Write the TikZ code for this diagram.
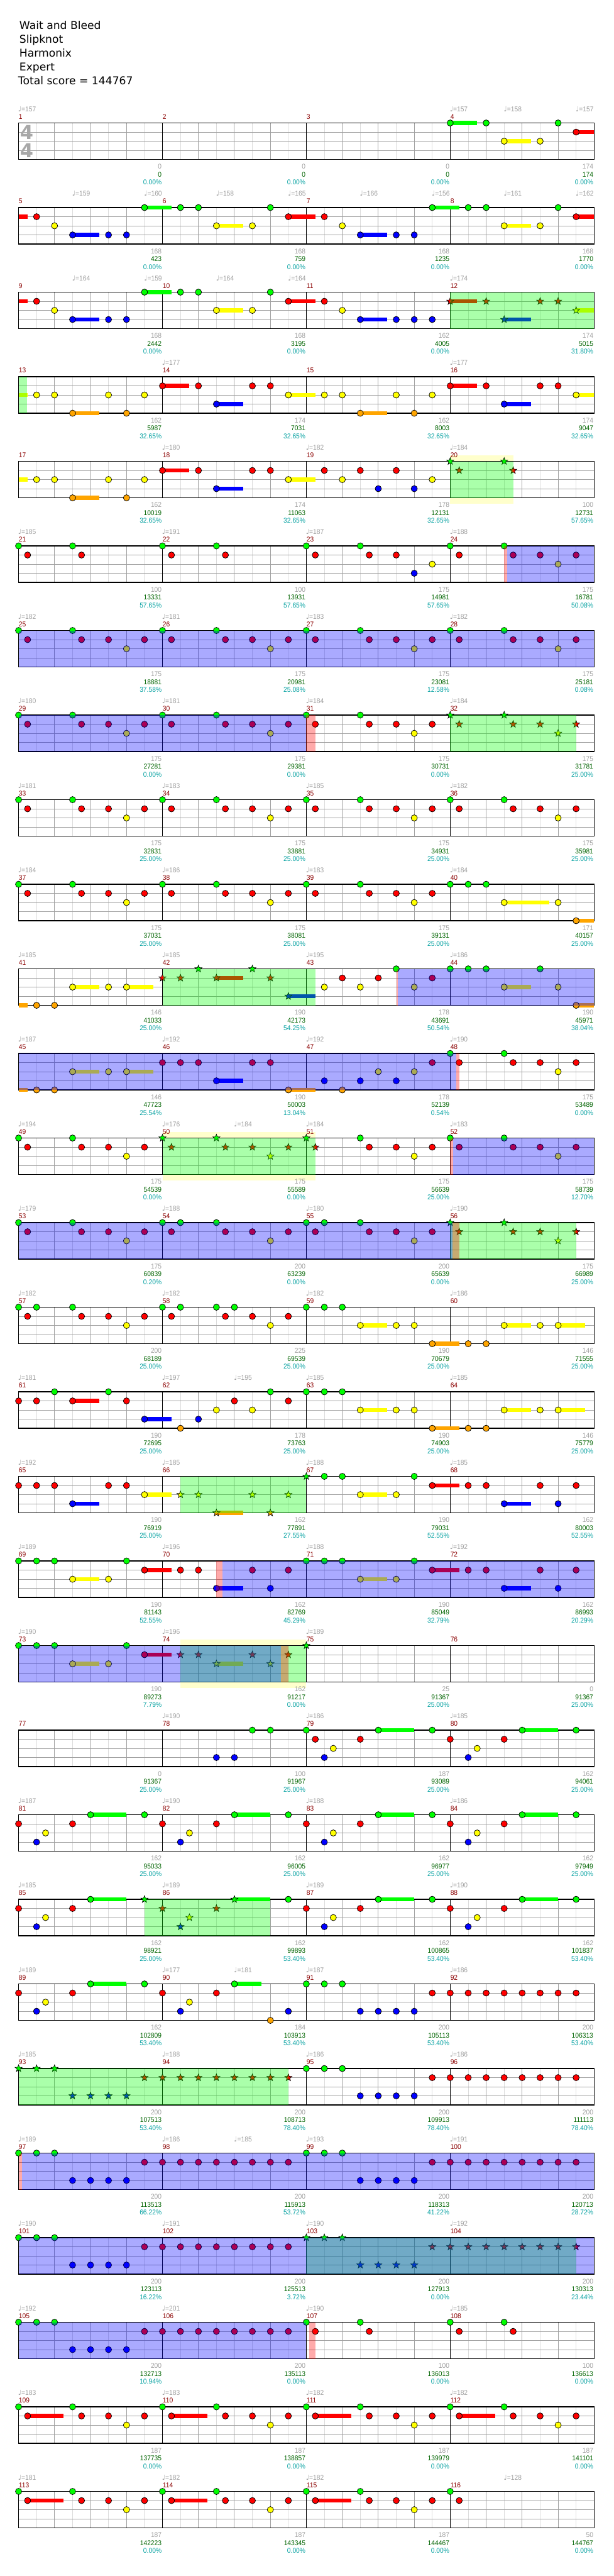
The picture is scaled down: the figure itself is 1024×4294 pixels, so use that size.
\documentclass[tikz,border=0pt]{standalone}
\usepackage{fontspec}
\setmainfont{DejaVu Sans}
\newfontfamily\djf{DejaVu Sans}
\newfontfamily\smallf[FakeStretch=0.93]{Liberation Sans}
\usetikzlibrary{shapes.geometric}
\definecolor{nG}{HTML}{00FF00}
\definecolor{nR}{HTML}{FF0000}
\definecolor{nY}{HTML}{FFFF00}
\definecolor{nB}{HTML}{0000FF}
\definecolor{nO}{HTML}{FFA500}
\definecolor{tgray}{HTML}{A0A0A0}
\definecolor{mred}{HTML}{8B0000}
\definecolor{tgrn}{HTML}{006400}
\definecolor{tteal}{HTML}{00A0A0}
\definecolor{glc}{HTML}{DCDCDC}
\definecolor{gmc}{HTML}{A0A0A0}
\definecolor{ylw}{HTML}{FFFFCC}
\definecolor{tsg}{HTML}{A8A8A8}
\newcommand\lnG{0}\newcommand\lnR{1}\newcommand\lnY{2}\newcommand\lnB{3}\newcommand\lnO{4}
\newcommand\Qf{\smallf\fontsize{5.8pt}{6pt}\selectfont}
\tikzset{
 glin/.style={draw=glc, line width=0.5pt},
 gmid/.style={draw=gmc, line width=0.5pt},
 blin/.style={draw=black, line width=0.6pt},
 tmp/.style={text=tgray, font=\Qf, inner sep=0pt, anchor=base west},
 mnum/.style={text=mred, font=\Qf, inner sep=0pt, anchor=base west},
 bgy/.style={text=tgray, font=\Qf, inner sep=0pt, anchor=base east},
 bgn/.style={text=tgrn, font=\Qf, inner sep=0pt, anchor=base east},
 btl/.style={text=tteal, font=\Qf, inner sep=0pt, anchor=base east},
 ttl/.style={font=\fontsize{9pt}{10pt}\selectfont, inner sep=0pt, anchor=base west},
 tsig/.style={text=tsg, font=\djf\bfseries\fontsize{16pt}{16pt}\selectfont, inner sep=0pt},
 strs/.style={star, star points=5, star point ratio=2.4, minimum size=6.2pt, inner sep=0pt, draw=black, line width=0.35pt}
}
% note, sustain, star
\newcommand\Qn[2]{\fill[n#2, draw=black, line width=0.4pt] ({31+30*(#1)},{15.2*\csname ln#2\endcsname}) circle (5.2);}
\newcommand\Qs[3]{\fill[n#3] ({31+30*(#1)},{15.2*\csname ln#3\endcsname-3.4}) rectangle ({31+30*(#1+#2)},{15.2*\csname ln#3\endcsname+3.4});}
\newcommand\Qr[2]{\node[strs, fill=n#2] at ({31+30*(#1)},{15.2*\csname ln#2\endcsname}) {};}
% texts
\newcommand\Qt[2]{\node[tmp] at ({31+30*(#1)-1},-19.3) {{\djf ♩}=#2};}
\newcommand\Qb[4]{\node[bgy] at ({31+240*#1-1},76.5) {#2};\node[bgn] at ({31+240*#1-1},90) {#3};\node[btl] at ({31+240*#1-1},103) {#4\%};}
% overlays
\newcommand\Qy[2]{\fill[ylw] ({31+30*(#1)},-10) rectangle ({31+30*(#2)},70.8);}
\newcommand\Qg[2]{\fill[nG, opacity=0.333] ({31+30*(#1)},0) rectangle ({31+30*(#2)},60.8);}
\newcommand\Qu[2]{\fill[nB, opacity=0.333] ({31+30*(#1)},0) rectangle ({31+30*(#2)},60.8);}
\newcommand\Qp[2]{\fill[nR, opacity=0.333] ({31+30*(#1)},0) rectangle ({31+30*(#2)},60.8);}
% staff
\newcommand\QS{%
 \fill[white] (31,0) rectangle (991,60.8);
 \foreach \i in {1,3,...,31}{\draw[glin] ({31+30*\i},0) -- ({31+30*\i},60.8);}
 \foreach \i in {2,4,6,10,12,14,18,20,22,26,28,30}{\draw[gmid] ({31+30*\i},0) -- ({31+30*\i},60.8);}
 \foreach \l in {1,2,3}{\draw[gmid] (31,{15.2*\l}) -- (991,{15.2*\l});}
 \foreach \i in {8,16,24}{\draw[blin] ({31+30*\i},0) -- ({31+30*\i},60.8);}
 \draw[blin] (31,0) rectangle (991,60.8);}
\newcommand\QB[1]{\pgfmathsetmacro\QT{205+141*(#1-1)}\begin{scope}[shift={(0,\QT)}]\pgfmathtruncatemacro\Qm{4*(#1-1)}}
\newcommand\QE{\foreach \k in {0,1,2,3}{\pgfmathtruncatemacro\Qmm{\Qm+\k+1}\node[mnum] at ({31+240*\k},-6.7) {\Qmm};}\end{scope}}
% patterns
\newcommand\QPa[2][\Qn]{#1{#2}{G}#1{#2+0.5}{R}#1{#2+3}{G}#1{#2+3.5}{R}#1{#2+5}{R}#1{#2+6}{Y}#1{#2+7}{R}}
\newcommand\QPd[1]{\Qs{#1+4}{2}{G}\Qn{#1}{R}\Qn{#1+1}{B}\Qn{#1+1.5}{Y}\Qn{#1+3}{R}\Qn{#1+4}{G}\Qn{#1+7}{G}}
\newcommand\QPe[1]{\Qs{#1+0.5}{2}{R}\Qn{#1}{G}\Qn{#1+0.5}{R}\Qn{#1+3}{G}\Qn{#1+3.5}{R}\Qn{#1+5}{R}\Qn{#1+6}{Y}\Qn{#1+7}{R}}
\newcommand\QPf[2][\Qn]{\foreach \i in {0,1,2}{#1{#2+\i}{G}}\foreach \i in {3,...,6}{#1{#2+\i}{B}}\foreach \i in {7,...,15}{#1{#2+\i}{R}}}
\newcommand\QPc{\Qs{19}{1.5}{Y}\Qs{23}{1.5}{O}\Qs{27}{1.5}{Y}\Qs{30}{1.5}{Y}\Qn{16}{G}\Qn{17}{G}\Qn{18}{G}\Qn{19}{Y}\Qn{21}{Y}\Qn{22}{Y}\Qn{23}{O}\Qn{25}{O}\Qn{26}{O}\Qn{27}{Y}\Qn{29}{Y}\Qn{30}{Y}}
\newcommand\QPt{\Qs{19}{1.5}{Y}\Qs{23}{1.5}{R}\Qs{27}{1.5}{B}\Qn{17}{G}\Qn{18}{G}\Qn{19}{Y}\Qn{21}{Y}\Qn{22}{G}\Qn{23}{R}\Qn{25}{R}\Qn{26}{R}\Qn{27}{B}\Qn{29}{R}\Qn{30}{B}\Qn{31}{R}}
\begin{document}
\begin{tikzpicture}[x=0.5pt,y=-0.5pt]
\useasboundingbox (0,0) rectangle (1024,4294);
\fill[white] (0,0) rectangle (1024,4294);
\node[ttl] (t1) at (32,49) {Wait and Bleed};
\node[ttl] (t2) at (32,72) {Slipknot};
\node[ttl] (t3) at (32,95) {Harmonix};
\node[ttl] (t4) at (32,118) {Expert};
\node[ttl] (t5) at (30,141.5) {Total score = 144767};
% row 1
\QB{1}\QS
\node[tsig] (ts1) at (44.5,15.5) {4};\node[tsig] (ts2) at (44.5,45.5) {4};
\Qt{0}{157}\Qt{24}{157}\Qt{27}{158}\Qt{31}{157}
\Qs{24}{1.5}{G}\Qs{27}{1.5}{Y}\Qs{31}{1}{R}
\Qn{24}{G}\Qn{26}{G}\Qn{27}{Y}\Qn{29}{Y}\Qn{30}{G}\Qn{31}{R}
\Qb{1}{0}{0}{0.00}\Qb{2}{0}{0}{0.00}\Qb{3}{0}{0}{0.00}\Qb{4}{174}{174}{0.00}
\QE
% row 2
\QB{2}\QS
\Qt{3}{159}\Qt{7}{160}\Qt{11}{158}\Qt{15}{165}\Qt{19}{166}\Qt{23}{156}\Qt{27}{161}\Qt{31}{162}
\Qs{0}{0.5}{R}\Qs{3}{1.5}{B}\Qs{7}{1.5}{G}\Qs{11}{1.5}{Y}\Qs{15}{1.5}{R}\Qs{19}{1.5}{B}\Qs{23}{1.5}{G}\Qs{27}{1.5}{Y}\Qs{31}{1}{R}
\Qn{1}{R}\Qn{2}{Y}\Qn{3}{B}\Qn{5}{B}\Qn{6}{B}\Qn{7}{G}\Qn{9}{G}\Qn{10}{G}\Qn{11}{Y}\Qn{13}{Y}\Qn{14}{G}\Qn{15}{R}\Qn{17}{R}\Qn{18}{Y}\Qn{19}{B}\Qn{21}{B}\Qn{22}{B}\Qn{23}{G}\Qn{25}{G}\Qn{26}{G}\Qn{27}{Y}\Qn{29}{Y}\Qn{30}{G}\Qn{31}{R}
\Qb{1}{168}{423}{0.00}\Qb{2}{168}{759}{0.00}\Qb{3}{168}{1235}{0.00}\Qb{4}{168}{1770}{0.00}
\QE
% row 3
\QB{3}\QS
\Qt{3}{164}\Qt{7}{159}\Qt{11}{164}\Qt{15}{164}\Qt{24}{174}
\Qs{0}{0.5}{R}\Qs{3}{1.5}{B}\Qs{7}{1.5}{G}\Qs{11}{1.5}{Y}\Qs{15}{1.5}{R}\Qs{19}{1.5}{B}\Qs{24}{1.5}{R}\Qs{27}{1.5}{B}\Qs{31}{1}{Y}
\Qn{1}{R}\Qn{2}{Y}\Qn{3}{B}\Qn{5}{B}\Qn{6}{B}\Qn{7}{G}\Qn{9}{G}\Qn{10}{G}\Qn{11}{Y}\Qn{13}{Y}\Qn{14}{G}\Qn{15}{R}\Qn{17}{R}\Qn{18}{Y}\Qn{19}{B}\Qn{21}{B}\Qn{22}{B}\Qn{23}{B}
\Qr{24}{R}\Qr{26}{R}\Qr{27}{B}\Qr{29}{R}\Qr{30}{R}\Qr{31}{Y}
\Qg{24}{32}
\Qb{1}{168}{2442}{0.00}\Qb{2}{168}{3195}{0.00}\Qb{3}{162}{4005}{0.00}\Qb{4}{174}{5015}{31.80}
\QE
% row 4
\QB{4}\QS
\Qt{8}{177}\Qt{24}{177}
\Qs{0}{0.5}{Y}\Qs{3}{1.5}{O}\Qs{8}{1.5}{R}\Qs{11}{1.5}{B}\Qs{15}{1.5}{Y}\Qs{19}{1.5}{O}\Qs{24}{1.5}{R}\Qs{27}{1.5}{B}\Qs{31}{1}{Y}
\Qn{1}{Y}\Qn{2}{Y}\Qn{3}{O}\Qn{5}{Y}\Qn{6}{O}\Qn{7}{Y}\Qn{8}{R}\Qn{10}{R}\Qn{11}{B}\Qn{13}{R}\Qn{14}{R}\Qn{15}{Y}\Qn{17}{Y}\Qn{18}{Y}\Qn{19}{O}\Qn{21}{Y}\Qn{22}{O}\Qn{23}{Y}\Qn{24}{R}\Qn{26}{R}\Qn{27}{B}\Qn{29}{R}\Qn{30}{R}\Qn{31}{Y}
\Qg{0}{0.48}
\Qb{1}{162}{5987}{32.65}\Qb{2}{174}{7031}{32.65}\Qb{3}{162}{8003}{32.65}\Qb{4}{174}{9047}{32.65}
\QE
% row 5
\QB{5}\Qy{24}{27.5}\QS
\Qt{8}{180}\Qt{16}{182}\Qt{24}{184}
\Qs{0}{0.5}{Y}\Qs{3}{1.5}{O}\Qs{8}{1.5}{R}\Qs{11}{1.5}{B}\Qs{15}{1.5}{Y}
\Qn{1}{Y}\Qn{2}{Y}\Qn{3}{O}\Qn{5}{Y}\Qn{6}{O}\Qn{7}{Y}\Qn{8}{R}\Qn{10}{R}\Qn{11}{B}\Qn{13}{R}\Qn{14}{R}\Qn{15}{Y}\Qn{17}{R}\Qn{18}{Y}\Qn{19}{R}\Qn{20}{B}\Qn{21}{R}\Qn{22}{B}\Qn{23}{Y}
\Qr{24}{G}\Qr{24.5}{R}\Qr{27}{G}\Qr{27.5}{R}
\Qg{24}{27.5}
\Qb{1}{162}{10019}{32.65}\Qb{2}{174}{11063}{32.65}\Qb{3}{178}{12131}{32.65}\Qb{4}{100}{12731}{57.65}
\QE
% row 6
\QB{6}\QS
\Qt{0}{185}\Qt{8}{191}\Qt{16}{187}\Qt{24}{188}
\Qn{0}{G}\Qn{0.5}{R}\Qn{3}{G}\Qn{3.5}{R}\Qn{8}{G}\Qn{8.5}{R}\Qn{11}{G}\Qn{11.5}{R}\Qn{16}{G}\Qn{16.5}{R}\Qn{19}{G}\Qn{19.5}{R}\Qn{21}{R}\Qn{22}{B}\Qn{23}{Y}\QPa{24}
\Qu{27.15}{32}\Qp{27}{27.15}
\Qb{1}{100}{13331}{57.65}\Qb{2}{100}{13931}{57.65}\Qb{3}{175}{14981}{57.65}\Qb{4}{175}{16781}{50.08}
\QE
% row 7
\QB{7}\QS
\Qt{0}{182}\Qt{8}{181}\Qt{16}{183}\Qt{24}{182}
\QPa{0}\QPa{8}\QPa{16}\QPa{24}
\Qu{0}{32}
\Qb{1}{175}{18881}{37.58}\Qb{2}{175}{20981}{25.08}\Qb{3}{175}{23081}{12.58}\Qb{4}{175}{25181}{0.08}
\QE
% row 8
\QB{8}\QS
\Qt{0}{180}\Qt{8}{181}\Qt{16}{184}\Qt{24}{184}
\QPa{0}\QPa{8}\QPa{16}\QPa[\Qr]{24}
\Qg{24}{31}\Qu{0}{16}\Qp{16}{16.5}
\Qb{1}{175}{27281}{0.00}\Qb{2}{175}{29381}{0.00}\Qb{3}{175}{30731}{0.00}\Qb{4}{175}{31781}{25.00}
\QE
% row 9
\QB{9}\QS
\Qt{0}{181}\Qt{8}{183}\Qt{16}{185}\Qt{24}{182}
\QPa{0}\QPa{8}\QPa{16}\QPa{24}
\Qb{1}{175}{32831}{25.00}\Qb{2}{175}{33881}{25.00}\Qb{3}{175}{34931}{25.00}\Qb{4}{175}{35981}{25.00}
\QE
% row 10
\QB{10}\QS
\Qt{0}{184}\Qt{8}{186}\Qt{16}{183}\Qt{24}{184}
\QPa{0}\QPa{8}\QPa{16}
\Qs{27}{2.5}{Y}\Qs{31}{1}{O}\Qn{24}{G}\Qn{25}{G}\Qn{26}{G}\Qn{27}{Y}\Qn{30}{Y}\Qn{31}{O}
\Qb{1}{175}{37031}{25.00}\Qb{2}{175}{38081}{25.00}\Qb{3}{175}{39131}{25.00}\Qb{4}{171}{40157}{25.00}
\QE
% row 11
\QB{11}\QS
\Qt{0}{185}\Qt{8}{185}\Qt{16}{195}\Qt{24}{186}
\Qs{0}{0.5}{O}\Qs{3}{1.5}{Y}\Qs{6}{1.5}{Y}\Qs{11}{1.5}{R}\Qs{15}{1.5}{B}\Qs{27}{1.5}{Y}\Qs{31}{1}{O}
\Qn{1}{O}\Qn{2}{O}\Qn{3}{Y}\Qn{5}{Y}\Qn{6}{Y}
\Qr{8}{R}\Qr{9}{R}\Qr{10}{G}\Qr{11}{R}\Qr{13}{G}\Qr{14}{R}\Qr{15}{B}
\Qn{17}{Y}\Qn{18}{R}\Qn{19}{Y}\Qn{20}{R}\Qn{21}{G}\Qn{22}{Y}\Qn{23}{R}\Qn{24}{G}\Qn{25}{G}\Qn{26}{G}\Qn{27}{Y}\Qn{29}{G}\Qn{30}{Y}\Qn{31}{O}
\Qg{8}{16.5}\Qu{21.1}{32}\Qp{21}{21.1}
\Qb{1}{146}{41033}{25.00}\Qb{2}{190}{42173}{54.25}\Qb{3}{178}{43691}{50.54}\Qb{4}{190}{45971}{38.04}
\QE
% row 12
\QB{12}\QS
\Qt{0}{187}\Qt{8}{192}\Qt{16}{192}\Qt{24}{190}
\Qs{0}{0.5}{O}\Qs{3}{1.5}{Y}\Qs{6}{1.5}{Y}\Qs{11}{1.5}{B}\Qs{15}{1.5}{O}
\Qn{1}{O}\Qn{2}{O}\Qn{3}{Y}\Qn{5}{Y}\Qn{6}{Y}\Qn{8}{R}\Qn{9}{R}\Qn{10}{R}\Qn{11}{B}\Qn{13}{R}\Qn{14}{R}\Qn{15}{O}\Qn{17}{B}\Qn{18}{O}\Qn{19}{B}\Qn{20}{Y}\Qn{21}{B}\Qn{22}{Y}\Qn{23}{R}\QPa{24}
\Qu{0}{24.33}\Qp{24.33}{24.5}
\Qb{1}{146}{47723}{25.54}\Qb{2}{190}{50003}{13.04}\Qb{3}{178}{52139}{0.54}\Qb{4}{175}{53489}{0.00}
\QE
% row 13
\QB{13}\Qy{8}{16.5}\QS
\Qt{0}{194}\Qt{8}{176}\Qt{12}{184}\Qt{16}{184}\Qt{24}{183}
\QPa{0}\QPa[\Qr]{8}\Qr{16}{G}\Qr{16.5}{R}\Qn{19}{G}\Qn{19.5}{R}\Qn{21}{R}\Qn{22}{Y}\Qn{23}{R}\QPa{24}
\Qg{8}{16.5}\Qu{24.15}{32}\Qp{24}{24.15}
\Qb{1}{175}{54539}{0.00}\Qb{2}{175}{55589}{0.00}\Qb{3}{175}{56639}{25.00}\Qb{4}{175}{58739}{12.70}
\QE
% row 14
\QB{14}\QS
\Qt{0}{179}\Qt{8}{188}\Qt{16}{180}\Qt{24}{190}
\QPa{0}\QPa{8}\Qn{9}{G}\QPa{16}\Qn{17}{G}\QPa[\Qr]{24}
\Qg{24}{31}\Qu{0}{24.13}\Qp{24.13}{24.5}
\Qb{1}{175}{60839}{0.20}\Qb{2}{200}{63239}{0.00}\Qb{3}{200}{65639}{0.00}\Qb{4}{175}{66989}{25.00}
\QE
% row 15
\QB{15}\QS
\Qt{0}{182}\Qt{8}{182}\Qt{16}{182}\Qt{24}{186}
\QPa{0}\Qn{1}{G}\QPa{8}\Qn{9}{G}\Qn{12}{G}\QPc
\Qb{1}{200}{68189}{25.00}\Qb{2}{225}{69539}{25.00}\Qb{3}{190}{70679}{25.00}\Qb{4}{146}{71555}{25.00}
\QE
% row 16
\QB{16}\QS
\Qt{0}{181}\Qt{8}{197}\Qt{12}{195}\Qt{16}{185}\Qt{24}{185}
\Qs{3}{1.5}{R}\Qs{7}{1.5}{B}
\Qn{0}{R}\Qn{1}{R}\Qn{2}{G}\Qn{3}{R}\Qn{5}{G}\Qn{6}{R}\Qn{7}{B}\Qn{9}{O}\Qn{10}{B}\Qn{11}{Y}\Qn{12}{R}\Qn{13}{Y}\Qn{14}{G}\Qn{15}{R}\QPc
\Qb{1}{190}{72695}{25.00}\Qb{2}{178}{73763}{25.00}\Qb{3}{190}{74903}{25.00}\Qb{4}{146}{75779}{25.00}
\QE
% row 17
\QB{17}\QS
\Qt{0}{192}\Qt{8}{185}\Qt{16}{188}\Qt{24}{185}
\Qs{3}{1.5}{B}\Qs{7}{1.5}{Y}\Qs{11}{1.5}{O}
\Qn{0}{R}\Qn{1}{R}\Qn{2}{R}\Qn{3}{B}\Qn{5}{R}\Qn{6}{R}\Qn{7}{Y}
\Qr{9}{Y}\Qr{10}{Y}\Qr{11}{O}\Qr{13}{Y}\Qr{14}{O}\Qr{15}{Y}\Qr{16}{G}
\QPt
\Qg{9}{16}
\Qb{1}{190}{76919}{25.00}\Qb{2}{162}{77891}{27.55}\Qb{3}{190}{79031}{52.55}\Qb{4}{162}{80003}{52.55}
\QE
% row 18
\QB{18}\QS
\Qt{0}{189}\Qt{8}{196}\Qt{16}{188}\Qt{24}{192}
\Qs{3}{1.5}{Y}\Qs{7}{1.5}{R}\Qs{11}{1.5}{B}
\Qn{0}{G}\Qn{1}{G}\Qn{2}{G}\Qn{3}{Y}\Qn{5}{Y}\Qn{6}{G}\Qn{7}{R}\Qn{9}{R}\Qn{10}{R}\Qn{11}{B}\Qn{13}{R}\Qn{14}{B}\Qn{15}{R}\Qn{16}{G}\QPt
\Qu{11.33}{32}\Qp{11}{11.33}
\Qb{1}{190}{81143}{52.55}\Qb{2}{162}{82769}{45.29}\Qb{3}{190}{85049}{32.79}\Qb{4}{162}{86993}{20.29}
\QE
% row 19
\QB{19}\Qy{9}{16}\QS
\Qt{0}{190}\Qt{8}{196}\Qt{16}{189}
\Qs{3}{1.5}{Y}\Qs{7}{1.5}{R}\Qs{11}{1.5}{Y}
\Qn{0}{G}\Qn{1}{G}\Qn{2}{G}\Qn{3}{Y}\Qn{5}{Y}\Qn{6}{G}\Qn{7}{R}
\Qr{9}{R}\Qr{10}{R}\Qr{11}{Y}\Qr{13}{R}\Qr{14}{Y}\Qr{15}{R}\Qr{16}{G}
\Qg{9}{16}\Qu{0}{14.6}\Qp{14.6}{15}
\Qb{1}{190}{89273}{7.79}\Qb{2}{162}{91217}{0.00}\Qb{3}{25}{91367}{25.00}\Qb{4}{0}{91367}{25.00}
\QE
% row 20
\QB{20}\QS
\Qt{8}{190}\Qt{16}{186}\Qt{24}{185}
\Qs{20}{2}{G}
\Qn{11}{B}\Qn{12}{B}\Qn{13}{G}\Qn{14}{G}\Qn{16}{G}\Qn{16.5}{R}\Qn{17}{B}\Qn{17.5}{Y}\Qn{19}{R}\Qn{20}{G}\Qn{23}{G}\QPd{24}
\Qb{1}{0}{91367}{25.00}\Qb{2}{100}{91967}{25.00}\Qb{3}{187}{93089}{25.00}\Qb{4}{162}{94061}{25.00}
\QE
% row 21
\QB{21}\QS
\Qt{0}{187}\Qt{8}{190}\Qt{16}{188}\Qt{24}{186}
\QPd{0}\QPd{8}\QPd{16}\QPd{24}
\Qb{1}{162}{95033}{25.00}\Qb{2}{162}{96005}{25.00}\Qb{3}{162}{96977}{25.00}\Qb{4}{162}{97949}{25.00}
\QE
% row 22
\QB{22}\QS
\Qt{0}{185}\Qt{8}{189}\Qt{16}{189}\Qt{24}{190}
\Qs{4}{2}{G}\Qn{0}{R}\Qn{1}{B}\Qn{1.5}{Y}\Qn{3}{R}\Qn{4}{G}\Qr{7}{G}
\Qs{12}{2}{G}\Qr{8}{R}\Qr{9}{B}\Qr{9.5}{Y}\Qr{11}{R}\Qr{12}{G}\Qn{15}{G}
\QPd{16}\QPd{24}
\Qg{7}{14}
\Qb{1}{162}{98921}{25.00}\Qb{2}{162}{99893}{53.40}\Qb{3}{162}{100865}{53.40}\Qb{4}{162}{101837}{53.40}
\QE
% row 23
\QB{23}\QS
\Qt{0}{189}\Qt{8}{177}\Qt{12}{181}\Qt{16}{187}\Qt{24}{186}
\QPd{0}\Qs{12}{1.5}{G}\Qn{8}{R}\Qn{9}{B}\Qn{9.5}{Y}\Qn{11}{R}\Qn{12}{G}\Qn{14}{O}\Qn{15}{B}
\QPf{16}
\Qb{1}{162}{102809}{53.40}\Qb{2}{184}{103913}{53.40}\Qb{3}{200}{105113}{53.40}\Qb{4}{200}{106313}{53.40}
\QE
% row 24
\QB{24}\QS
\Qt{0}{185}\Qt{8}{188}\Qt{16}{186}\Qt{24}{186}
\QPf[\Qr]{0}\QPf{16}
\Qg{0}{15}
\Qb{1}{200}{107513}{53.40}\Qb{2}{200}{108713}{78.40}\Qb{3}{200}{109913}{78.40}\Qb{4}{200}{111113}{78.40}
\QE
% row 25
\QB{25}\QS
\Qt{0}{189}\Qt{8}{186}\Qt{12}{185}\Qt{16}{193}\Qt{24}{191}
\QPf{0}\QPf{16}
\Qu{0.2}{32}\Qp{0}{0.2}
\Qb{1}{200}{113513}{66.22}\Qb{2}{200}{115913}{53.72}\Qb{3}{200}{118313}{41.22}\Qb{4}{200}{120713}{28.72}
\QE
% row 26
\QB{26}\QS
\Qt{0}{190}\Qt{8}{191}\Qt{16}{190}\Qt{24}{192}
\QPf{0}\QPf[\Qr]{16}
\Qg{16}{31}\Qu{0}{32}
\Qb{1}{200}{123113}{16.22}\Qb{2}{200}{125513}{3.72}\Qb{3}{200}{127913}{0.00}\Qb{4}{200}{130313}{23.44}
\QE
% row 27
\QB{27}\QS
\Qt{0}{192}\Qt{8}{201}\Qt{16}{190}\Qt{24}{185}
\QPf{0}\Qn{16}{G}\Qn{16.5}{R}\Qn{19}{G}\Qn{19.5}{R}\Qn{24}{G}\Qn{24.5}{R}\Qn{27}{G}\Qn{27.5}{R}
\Qu{0}{16}\Qp{16.17}{16.5}
\Qb{1}{200}{132713}{10.94}\Qb{2}{200}{135113}{0.00}\Qb{3}{100}{136013}{0.00}\Qb{4}{100}{136613}{0.00}
\QE
% row 28
\QB{28}\QS
\Qt{0}{183}\Qt{8}{183}\Qt{16}{182}\Qt{24}{182}
\QPe{0}\QPe{8}\QPe{16}\QPe{24}
\Qb{1}{187}{137735}{0.00}\Qb{2}{187}{138857}{0.00}\Qb{3}{187}{139979}{0.00}\Qb{4}{187}{141101}{0.00}
\QE
% row 29
\QB{29}\QS
\Qt{0}{181}\Qt{8}{182}\Qt{16}{182}\Qt{27}{128}
\QPe{0}\QPe{8}\QPe{16}\Qn{24}{G}\Qn{24.5}{R}
\Qb{1}{187}{142223}{0.00}\Qb{2}{187}{143345}{0.00}\Qb{3}{187}{144467}{0.00}\Qb{4}{50}{144767}{0.00}
\QE
\end{tikzpicture}
\end{document}
